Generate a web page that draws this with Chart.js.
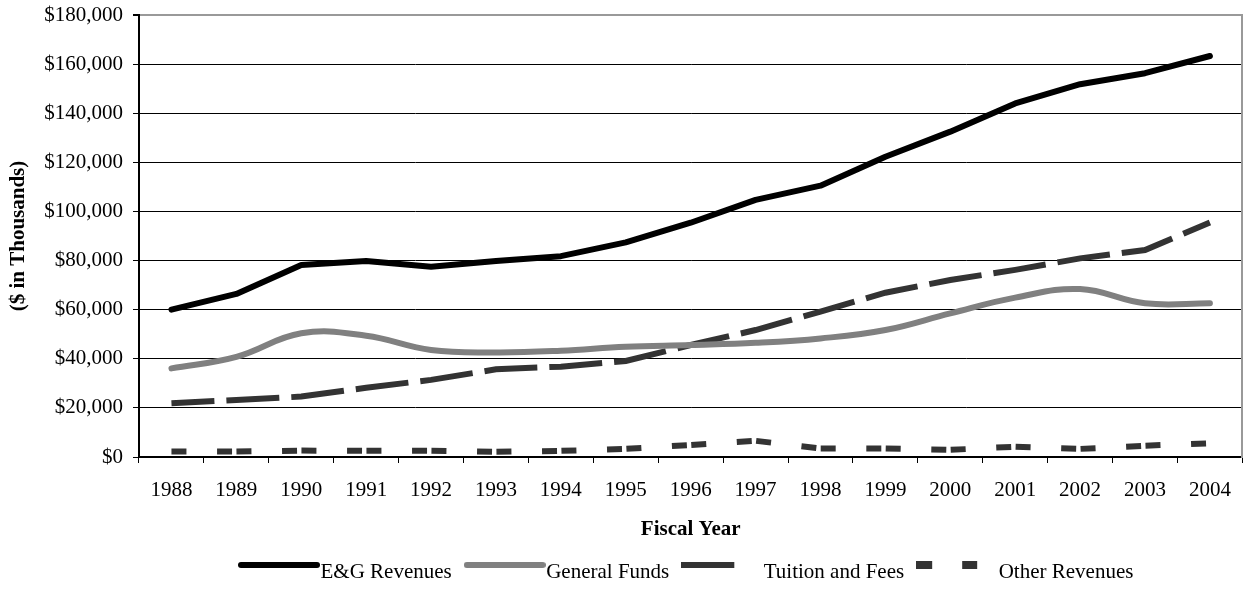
<!DOCTYPE html>
<html>
<head>
<meta charset="utf-8">
<title>E&amp;G Revenues by Fiscal Year</title>
<script src="https://cdn.jsdelivr.net/npm/chart.js@4.4.1/dist/chart.umd.min.js"></script>
<style>
    html, body { margin: 0; padding: 0; background: #fff; }
    .graph-data { width: 1246px; height: 598px; }
</style>
</head>
<body>
<div class="graph-data">
    <canvas id="myChart" width="1246" height="598"></canvas>
</div>
<script>
/* Revenues by fiscal year, $ in thousands */
let years = ['1988', '1989', '1990', '1991', '1992', '1993', '1994', '1995', '1996',
    '1997', '1998', '1999', '2000', '2001', '2002', '2003', '2004'];
let egRevenues = [60000, 66400, 78200, 79800, 77500, 79800, 81800, 87400, 95400,
    104700, 110500, 122300, 132500, 144000, 151800, 156300, 163300];
let generalFunds = [36100, 40800, 50400, 49400, 43600, 42600, 43300, 44900, 45600,
    46500, 48300, 51700, 58500, 64900, 68400, 62600, 62600];
let tuitionFees = [21900, 23200, 24600, 28200, 31400, 35700, 36800, 39100, 45600,
    51700, 59200, 66900, 72100, 76200, 80900, 84300, 95500];
let otherRevenues = [2200, 2200, 2600, 2500, 2500, 2100, 2500, 3300, 4900,
    6600, 3500, 3500, 2900, 4200, 3300, 4600, 5600];
let seriesNames = ['E&G Revenues', 'General Funds', 'Tuition and Fees', 'Other Revenues'];
let yMin = 0;
let yMax = 180000;
let yStep = 20000;

let serif = 'Liberation Serif, Times New Roman, serif';

/* Small canvas used as the legend sample for each series */
function legendSample(draw) {
    let c = document.createElement('canvas');
    c.width = 82;
    c.height = 24;
    let g = c.getContext('2d');
    draw(g);
    return c;
}

let egSample = legendSample(g => {
    g.strokeStyle = '#000';
    g.lineWidth = 6;
    g.lineCap = 'round';
    g.beginPath();
    g.moveTo(3, 5);
    g.lineTo(79, 5);
    g.stroke();
});
let gfSample = legendSample(g => {
    g.strokeStyle = '#808080';
    g.lineWidth = 6;
    g.lineCap = 'round';
    g.beginPath();
    g.moveTo(3, 5);
    g.lineTo(79, 5);
    g.stroke();
});
let tfSample = legendSample(g => {
    g.fillStyle = '#333';
    g.fillRect(0, 2, 53, 6);
});
let orSample = legendSample(g => {
    g.fillStyle = '#333';
    g.fillRect(0, 1, 16, 8);
    g.fillRect(46, 1, 15, 8);
});

let dta = {
    labels: years,
    datasets: [{
        label: seriesNames[0],
        data: egRevenues,
        borderColor: '#000',
        borderWidth: 6,
        borderCapStyle: 'round',
        borderJoinStyle: 'round',
        tension: 0,
        pointRadius: 0,
        pointStyle: egSample
    }, {
        label: seriesNames[1],
        data: generalFunds,
        borderColor: '#808080',
        borderWidth: 6,
        borderCapStyle: 'round',
        borderJoinStyle: 'round',
        tension: 0.4,
        pointRadius: 0,
        pointStyle: gfSample
    }, {
        label: seriesNames[2],
        data: tuitionFees,
        borderColor: '#333',
        borderWidth: 6,
        borderDash: [53, 12],
        borderDashOffset: 10,
        tension: 0,
        pointRadius: 0,
        pointStyle: tfSample
    }, {
        label: seriesNames[3],
        data: otherRevenues,
        borderColor: '#333',
        borderWidth: 6,
        borderDash: [15, 4.4, 15, 30.6],
        borderDashOffset: 19.4,
        tension: 0,
        pointRadius: 0,
        pointStyle: orSample
    }]
};

let config = {
    type: 'line',
    data: dta,
    options: {
        responsive: false,
        animation: false,
        events: [],
        layout: { padding: { top: 15, right: 0, left: 0, bottom: 5.5 } },
        plugins: {
            tooltip: { enabled: false },
            legend: {
                position: 'bottom',
                fullSize: false,
                labels: {
                    usePointStyle: true,
                    pointStyleWidth: 62,
                    padding: 22,
                    color: '#000',
                    font: { family: serif, size: 21 }
                }
            }
        },
        scales: {
            x: {
                offset: true,
                grid: {
                    offset: true,
                    drawOnChartArea: false,
                    tickLength: 6,
                    tickColor: '#000',
                    lineWidth: 1
                },
                border: { color: '#000', width: 2 },
                ticks: {
                    padding: 15,
                    color: '#000',
                    maxRotation: 0,
                    font: { family: serif, size: 21 }
                },
                title: {
                    display: true,
                    text: 'Fiscal Year',
                    color: '#000',
                    padding: { top: 0, bottom: -3 },
                    font: { family: serif, size: 21, weight: 'bold' }
                },
                afterFit: s => { s.height = 82.5; }
            },
            y: {
                min: yMin,
                max: yMax,
                grid: {
                    color: c => c.tick && c.tick.value === yMax ? '#999' : '#000',
                    lineWidth: c => c.tick && c.tick.value === yMax ? 2 : 1,
                    tickLength: 6,
                    tickColor: '#000'
                },
                border: { color: '#000', width: 2 },
                ticks: {
                    stepSize: yStep,
                    padding: 10,
                    color: '#000',
                    font: { family: serif, size: 21 },
                    callback: v => '$' + v.toLocaleString('en-US')
                },
                title: {
                    display: true,
                    text: '($ in Thousands)',
                    color: '#000',
                    padding: { top: 6, bottom: 0 },
                    font: { family: serif, size: 21, weight: 'bold' }
                },
                /* fixed axis width; the top label may sit in the page margin */
                afterFit: s => {
                    s.width = 139;
                    s.paddingTop = 0;
                    s.paddingBottom = 0;
                }
            },
            /* right-hand frame of the plot area */
            yRight: {
                position: 'right',
                min: yMin,
                max: yMax,
                grid: { display: false },
                ticks: { display: false },
                border: { color: '#999', width: 2 },
                afterFit: s => {
                    s.width = 3;
                    s.paddingTop = 0;
                    s.paddingBottom = 0;
                }
            }
        }
    }
};

let myChart = new Chart(document.getElementById('myChart'), config);
</script>
</body>
</html>
